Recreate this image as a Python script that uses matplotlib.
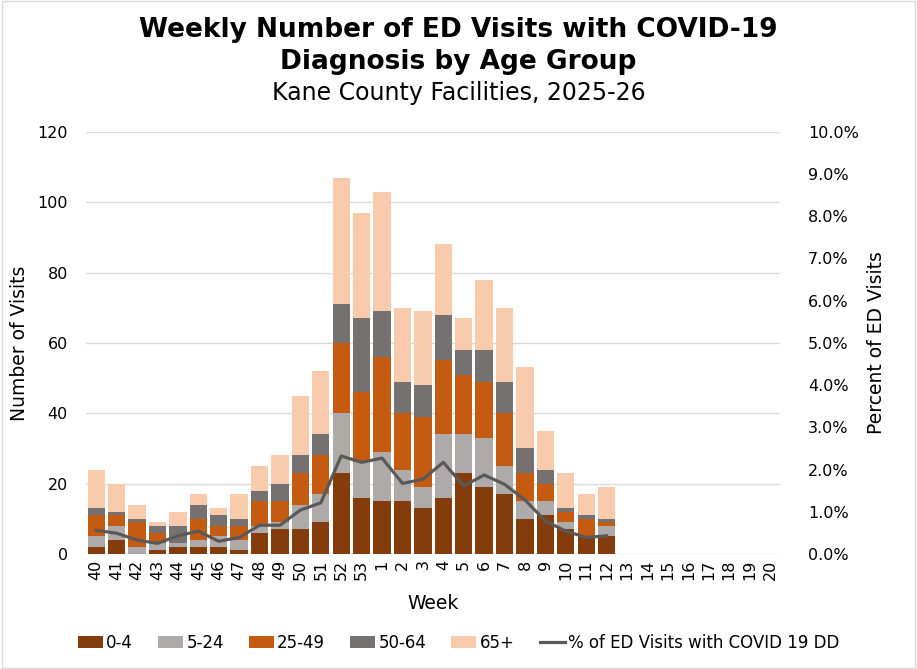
import numpy as np
import matplotlib
matplotlib.use("Agg")
import matplotlib.pyplot as plt
from matplotlib.patches import Rectangle
from matplotlib.ticker import FuncFormatter

weeks = ["40", "41", "42", "43", "44", "45", "46", "47", "48", "49", "50", "51", "52", "53",
         "1", "2", "3", "4", "5", "6", "7", "8", "9", "10", "11", "12",
         "13", "14", "15", "16", "17", "18", "19", "20"]

age_0_4 = [2, 4, 0, 1, 2, 2, 2, 1, 6, 7, 7, 9, 23, 16, 15, 15, 13, 16, 23, 19, 17, 10, 11, 7, 5, 5]
age_5_24 = [3, 4, 2, 2, 1, 2, 3, 3, 2, 2, 7, 8, 17, 10, 14, 9, 6, 18, 11, 14, 8, 5, 4, 2, 0, 3]
age_25_49 = [6, 3, 7, 3, 0, 6, 3, 4, 7, 6, 9, 11, 20, 20, 27, 16, 20, 21, 17, 16, 15, 8, 5, 3, 5, 1]
age_50_64 = [2, 1, 1, 2, 5, 4, 3, 2, 3, 5, 5, 6, 11, 21, 13, 9, 9, 13, 7, 9, 9, 7, 4, 1, 1, 1]
age_65 = [11, 8, 4, 1, 4, 3, 2, 7, 7, 8, 17, 18, 36, 30, 34, 21, 21, 20, 9, 20, 21, 23, 11, 10, 6, 9]
pct_covid = [0.56, 0.49, 0.33, 0.25, 0.43, 0.54, 0.30, 0.39, 0.68, 0.68, 1.04, 1.21, 2.32, 2.17,
             2.27, 1.67, 1.77, 2.17, 1.61, 1.87, 1.65, 1.28, 0.78, 0.54, 0.39, 0.43]

series = [("0-4", age_0_4, "#843C0C"),
          ("5-24", age_5_24, "#AEAAAA"),
          ("25-49", age_25_49, "#C55A11"),
          ("50-64", age_50_64, "#767171"),
          ("65+", age_65, "#F8CBAD")]

n = len(weeks)
x = np.arange(n)

plt.rcParams['font.family'] = ['DejaVu Sans']

fig = plt.figure(figsize=(9.17, 6.69), dpi=100)
ax = fig.add_axes([0.0938, 0.172, 0.757, 0.631])

bottom = np.zeros(n)
handles = []
for name, vals, color in series:
    v = np.zeros(n)
    v[:len(vals)] = vals
    b = ax.bar(x, v, width=0.85, bottom=bottom, color=color, label=name, zorder=2)
    handles.append(b)
    bottom += v

ax.set_xlim(-0.5, n - 0.5)
ax.set_ylim(0, 120)
ax.set_yticks(range(0, 121, 20))
ax.set_xticks(x)
ax.set_xticklabels(weeks, rotation=90, fontsize=11.5)
ax.tick_params(axis='y', labelsize=11.5, length=0, pad=13)
ax.tick_params(axis='x', length=0, pad=4)
ax.grid(axis='y', color='#D9D9D9', linewidth=1, zorder=0)
ax.set_axisbelow(True)
for s in ax.spines.values():
    s.set_visible(False)
ax.set_ylabel("Number of Visits", fontsize=13.5, labelpad=6)
ax.set_xlabel("Week", fontsize=13.5, labelpad=10)

ax2 = ax.twinx()
pct = np.full(n, np.nan)
pct[:len(pct_covid)] = pct_covid
line, = ax2.plot(x, pct, color="#595959", linewidth=2.3, label="% of ED Visits with COVID 19 DD")
ax2.set_ylim(0, 10)
ax2.set_yticks(np.arange(0, 10.1, 1))
ax2.yaxis.set_major_formatter(FuncFormatter(lambda v, p: f"{v:.1f}%"))
ax2.tick_params(axis='y', labelsize=11.5, length=0, pad=20)
for s in ax2.spines.values():
    s.set_visible(False)
ax2.set_ylabel("Percent of ED Visits", fontsize=13.5, labelpad=6)

fig.text(0.5, 0.955, "Weekly Number of ED Visits with COVID-19", ha='center', va='center',
         fontsize=19, fontweight='bold')
fig.text(0.5, 0.907, "Diagnosis by Age Group", ha='center', va='center',
         fontsize=19, fontweight='bold')
fig.text(0.5, 0.861, "Kane County Facilities, 2025-26", ha='center', va='center', fontsize=17)

fig.legend(handles + [line], [h.get_label() for h in handles] + [line.get_label()],
           loc='center', bbox_to_anchor=(0.5, 0.039), ncol=6, frameon=False, fontsize=12,
           handlelength=1.5, handleheight=0.7, handletextpad=0.2, columnspacing=1.5)

fig.patches.append(Rectangle((0.002, 0.002), 0.996, 0.996, transform=fig.transFigure,
                             fill=False, edgecolor='#D9D9D9', linewidth=1))

fig.savefig("out.png", dpi=100)
